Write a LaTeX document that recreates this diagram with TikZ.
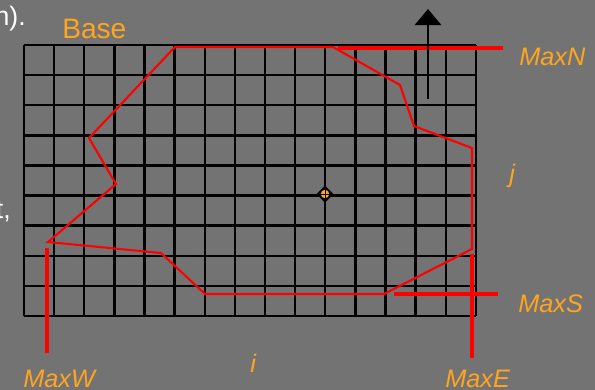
\documentclass[tikz,border=0pt]{standalone}
\usepackage{fontspec}
\setmainfont{Liberation Sans}
\usetikzlibrary{arrows.meta}
\definecolor{slate}{HTML}{737373}
\definecolor{hilite}{HTML}{FFA520}
\definecolor{edge}{HTML}{FF0000}
\tikzset{>=Latex,
  cell/.style={draw=black,line width=1.7pt},
  hull/.style={draw=edge,line width=1.5pt,line join=miter},
  bound/.style={draw=edge,line width=2.8pt},
  lab/.style={text=hilite,font=\fontsize{18}{21}\selectfont\itshape,inner sep=0pt,anchor=base west},
  frag/.style={text=white,font=\fontsize{19}{22}\selectfont,inner sep=0pt,anchor=base east}}

\begin{document}
\begin{tikzpicture}[x=0.025cm,y=-0.025cm]
  \path[use as bounding box,fill=slate] (0,0) rectangle (595,390);
  \clip (0,0) rectangle (595,390);
  \node[frag] (cutA) at (26,25) {n).};
  \node[frag] (cutB) at (11,218) {t,};
  \foreach \k in {0,...,15}
    \draw[cell] ({24+\k*30.13},45) -- ({24+\k*30.13},316);
  \foreach \k in {0,...,9}
    \draw[cell] (24,{45+\k*30.11}) -- (476,{45+\k*30.11});
  \draw[hull] (175,47) -- (333,47) -- (400,85) -- (414,126) -- (472,148)
    -- (472,249) -- (384,294) -- (205,294) -- (161,253) -- (48,242)
    -- (116,184) -- (89,138) -- cycle;
  % boundary marks
  \coordinate (nA) at (338,48);  \coordinate (nB) at (503,48);
  \coordinate (sA) at (394,294); \coordinate (sB) at (498,294);
  \coordinate (eA) at (472,254); \coordinate (eB) at (472,358);
  \coordinate (wA) at (47,248);  \coordinate (wB) at (47,353);
  \draw[bound] (nA) -- (nB);
  \draw[bound] (sA) -- (sB);
  \draw[bound] (eA) -- (eB);
  \draw[bound] (wA) -- (wB);
  \coordinate (up0) at (428,99); \coordinate (up1) at (428,9);
  \draw[line width=2.1pt,-{Triangle[width=18.5pt,length=11.4pt]}] (up0) -- (up1);
  % centre mark
  \fill (325,185.5) -- (333.5,194) -- (325,202.5) -- (316.5,194) -- cycle;
  \fill[hilite] (325,194) circle (4.2);
  \draw[line width=0.5pt] (321,194) -- (329,194) (325,190) -- (325,198);
  \node[text=hilite,font=\fontsize{20}{24}\selectfont,inner sep=0pt,anchor=base west]
    (base) at (62,38) {Base};
  \node[lab] (maxN) at (519,65) {MaxN};
  \node[lab] (jlab) at (509,182) {j};
  \node[lab] (maxS) at (518,312) {MaxS};
  \node[lab] (ilab) at (250,372) {i};
  \node[lab] (maxW) at (23,387) {MaxW};
  \node[lab] (maxE) at (445,387) {MaxE};
\end{tikzpicture}
\end{document}
